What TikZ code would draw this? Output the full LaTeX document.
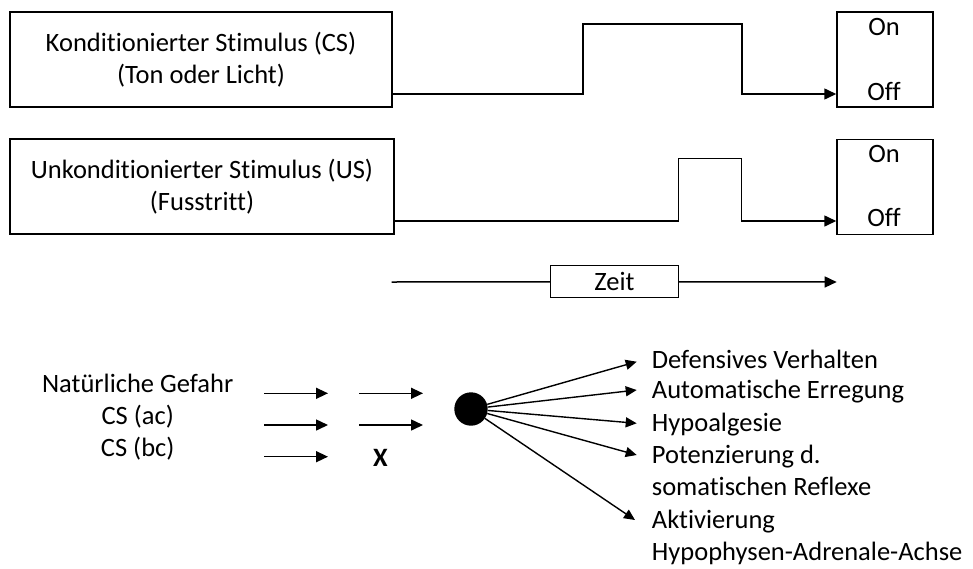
\documentclass[tikz,border=0pt]{standalone}
\usepackage{fontspec}
\setmainfont{Carlito}[Ligatures=NoCommon]
\usetikzlibrary{arrows.meta}
\begin{document}
\begin{tikzpicture}[x=1pt,y=-1pt,
  txt/.style={font=\fontsize{26.5}{32}\selectfont, inner sep=0pt},
  bx/.style={draw, line width=1.5pt, inner sep=0pt, align=center, font=\fontsize{26.5}{32}\selectfont},
  ln/.style={line width=1.5pt},
  arr/.style={line width=1.5pt, -{Triangle[length=12pt,width=11pt]}},
  farr/.style={line width=1.4pt, -{Triangle[length=11pt,width=10pt]}}]
\useasboundingbox (0,0) rectangle (973,568);
% top boxes
\node[bx, minimum width=382pt, minimum height=95pt] (cs) at (201,59.5) {Konditionierter Stimulus (CS)\\(Ton oder Licht)};
\node[bx, minimum width=384pt, minimum height=95pt] (us) at (202,186.7) {Unkonditionierter Stimulus (US)\\(Fusstritt)};
\node[bx, minimum width=96pt, minimum height=95pt] (oo1) at (885,59.5) {};
\node[bx, minimum width=96pt, minimum height=95pt] (oo2) at (885,186.8) {};
\node[txt, anchor=base] (on1) at (884,35) {On};
\node[txt, anchor=base] (off1) at (884,100) {Off};
\node[txt, anchor=base] (on2) at (884,162) {On};
\node[txt, anchor=base] (off2) at (884,226) {Off};
% signals
\coordinate (y1) at (0,94);
\coordinate (y2) at (0,221);
\draw[arr, line join=miter] (cs.east |- y1) -- (583,94) -- (583,24) -- (742,24) -- (742,94) -- (oo1.west |- y1);
\draw[arr, line join=miter] (us.east |- y2) -- (678.3,221) -- (678.3,158.3) -- (741.7,158.3) -- (741.7,221) -- (oo2.west |- y2);
% time axis
\coordinate (z0) at (391.7,282);
\coordinate (z1) at (836.7,282);
\node[bx, minimum width=127.6pt, minimum height=32pt] (zeit) at (614.5,281.7) {Zeit};
\draw[ln] (z0) -- (zeit);
\draw[arr] (zeit) -- (z1);
% lower part
\node[txt, anchor=base] (ng) at (137.7,392) {Natürliche Gefahr};
\node[txt, anchor=base] (ac) at (137.7,424) {CS (ac)};
\node[txt, anchor=base] (bc) at (137.7,456) {CS (bc)};
\coordinate (a1) at (264,393.3); \coordinate (b1) at (328,393.3);
\coordinate (a2) at (264,425); \coordinate (b2) at (328,425);
\coordinate (a3) at (264,456.7); \coordinate (b3) at (328,456.7);
\coordinate (c1) at (359,393.3); \coordinate (d1) at (423,393.3);
\coordinate (c2) at (359,425); \coordinate (d2) at (423,425);
\draw[arr] (a1) -- (b1);
\draw[arr] (a2) -- (b2);
\draw[arr] (a3) -- (b3);
\draw[arr] (c1) -- (d1);
\draw[arr] (c2) -- (d2);
\node[txt, font=\fontsize{26.5}{32}\selectfont\bfseries] (x) at (380.5,457.5) {X};
\node[circle, fill=black, minimum size=33.4pt, inner sep=0pt] (dot) at (471,409) {};
\coordinate (t1) at (636.7,361.7);
\coordinate (t2) at (636.7,390);
\coordinate (t3) at (636.7,423.3);
\coordinate (t4) at (636.7,455);
\coordinate (t5) at (635,520);
\draw[farr] (dot) -- (t1);
\draw[farr] (dot) -- (t2);
\draw[farr] (dot) -- (t3);
\draw[farr] (dot) -- (t4);
\draw[farr] (dot) -- (t5);
\node[txt, anchor=base west] (r1) at (651.7,368) {Defensives Verhalten};
\node[txt, anchor=base west] (r2) at (651.7,398) {Automatische Erregung};
\node[txt, anchor=base west] (r3) at (651.7,431) {Hypoalgesie};
\node[txt, anchor=base west] (r4) at (651.7,463.5) {Potenzierung d.};
\node[txt, anchor=base west] (r4b) at (651.7,495.5) {somatischen Reflexe};
\node[txt, anchor=base west] (r5) at (651.7,528) {Aktivierung};
\node[txt, anchor=base west] (r5b) at (651.7,560) {Hypophysen-Adrenale-Achse};
\end{tikzpicture}
\end{document}
